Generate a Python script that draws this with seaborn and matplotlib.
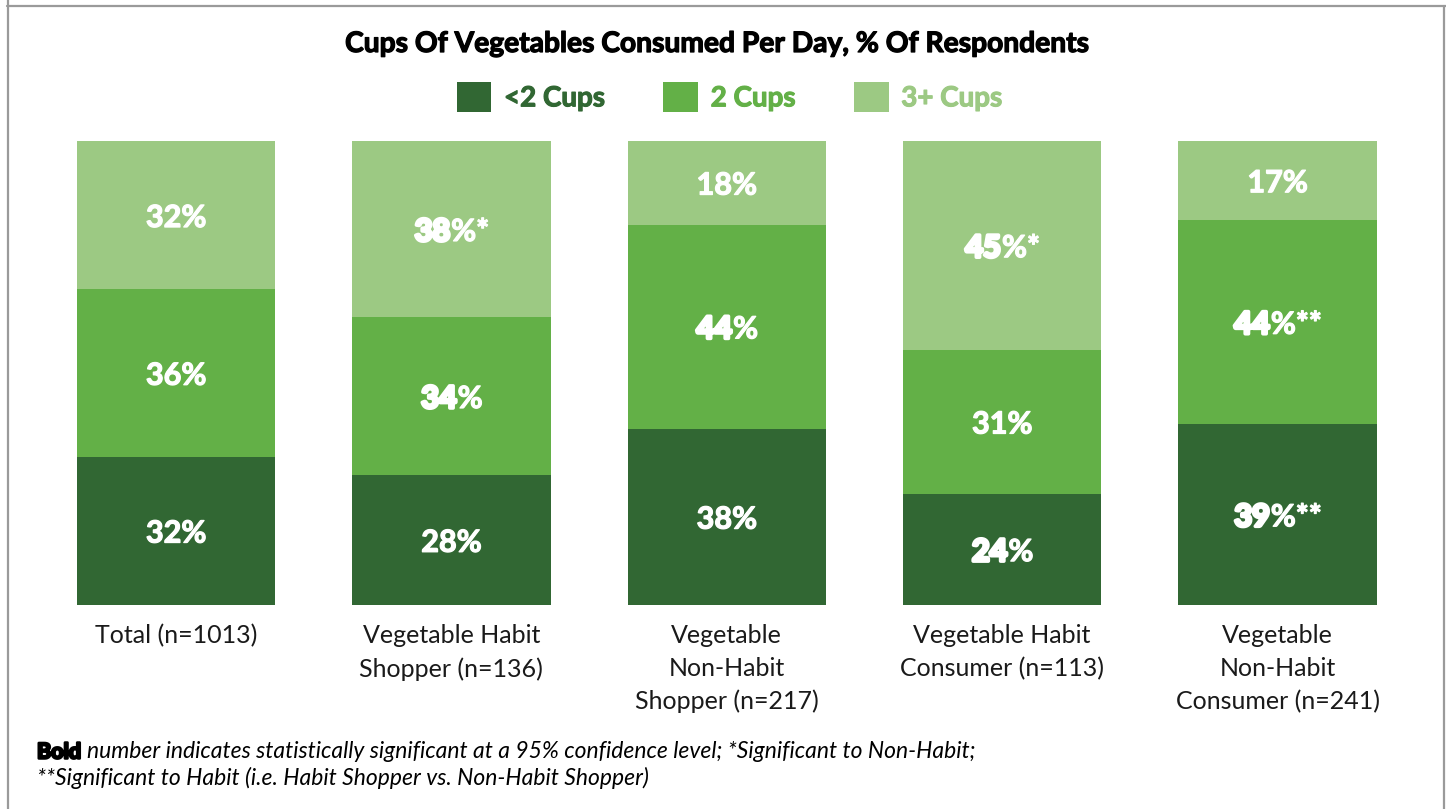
import matplotlib
matplotlib.use("Agg")
import matplotlib.pyplot as plt
import matplotlib.patheffects as pe
import matplotlib.transforms as mtransforms
from matplotlib.patches import Patch
from matplotlib.lines import Line2D
import pandas as pd
import seaborn as sns

# ---- data -------------------------------------------------------------
categories = [
    "Total (n=1013)",
    "Vegetable Habit\nShopper (n=136)",
    "Vegetable\nNon-Habit\nShopper (n=217)",
    "Vegetable Habit\nConsumer (n=113)",
    "Vegetable\nNon-Habit\nConsumer (n=241)",
]
series_names = ["<2 Cups", "2 Cups", "3+ Cups"]
under2 = [32, 28, 38, 24, 39]
two_cups = [36, 34, 44, 31, 44]
three_plus = [32, 38, 18, 45, 17]

# significance suffixes and which values are shown in heavy type
under2_marks = ["", "", "", "", "**"]
two_marks = ["", "", "", "", "**"]
three_marks = ["", "*", "", "*", ""]
under2_sig = [False, False, False, True, True]
two_sig = [False, True, True, False, True]
three_sig = [False, True, False, True, False]

title = "Cups Of Vegetables Consumed Per Day, % Of Respondents"
note_bold = "Bold"
note_line1 = "number indicates statistically significant at a 95% confidence level; *Significant to Non-Habit;"
note_line2 = "**Significant to Habit (i.e. Habit Shopper vs. Non-Habit Shopper)"

# ---- style ------------------------------------------------------------
DARK, MID, LIGHT = "#316733", "#63b047", "#9cc983"
colors = [DARK, MID, LIGHT]

sns.set_theme(style="white")
plt.rcParams["font.family"] = ["Lato", "DejaVu Sans"]

W, H = 1446, 809
fig = plt.figure(figsize=(W / 100, H / 100), dpi=100)
fig.patch.set_facecolor("white")

ax = fig.add_axes([38.3 / W, 204 / H, 1376.9 / W, 464 / H])

df = pd.DataFrame({
    "group": categories,
    "lt2": under2,
    "two": two_cups,
    "three": three_plus,
})
df["cum_mid"] = df["lt2"] + df["two"]
df["cum_top"] = df["cum_mid"] + df["three"]

# stacked bars drawn as overlapping cumulative totals
for col, c in [("cum_top", LIGHT), ("cum_mid", MID), ("lt2", DARK)]:
    sns.barplot(data=df, x="group", y=col, order=categories, color=c,
                width=0.72, saturation=1, edgecolor="none", linewidth=0,
                ax=ax)

ax.set_xlim(-0.5, len(categories) - 0.5)
ax.set_ylim(0, 100)
ax.set_xlabel("")
ax.set_ylabel("")
ax.set_yticks([])
for s in ax.spines.values():
    s.set_visible(False)
ax.tick_params(axis="x", length=0, pad=14, labelsize=18, labelcolor="#1a1a1a")
for lbl in ax.get_xticklabels():
    lbl.set_linespacing(1.5)
    lbl.set_multialignment("center")

# ---- segment labels ---------------------------------------------------
fig.canvas.draw()
renderer = fig.canvas.get_renderer()
px_data = mtransforms.blended_transform_factory(mtransforms.IdentityTransform(), ax.transData)
plain_fx = [pe.withStroke(linewidth=0.9, foreground="white")]
heavy_fx = [pe.withStroke(linewidth=2.6, foreground="white")]
LABEL_SIZE = 22
NUDGE = 0.6  # small downward shift so glyphs sit optically centred

segments = [
    (under2, under2_marks, under2_sig),
    (two_cups, two_marks, two_sig),
    (three_plus, three_marks, three_sig),
]
for i in range(len(categories)):
    base = 0
    xc = ax.transData.transform((i, 0))[0]
    for vals, marks, sig in segments:
        v = vals[i]
        y = base + v / 2 - NUDGE
        if sig[i]:
            # heavy digits followed by the regular-weight suffix
            t1 = ax.text(0, y, f"{v}", transform=px_data, ha="left", va="center",
                         color="white", fontsize=LABEL_SIZE, fontweight="bold",
                         path_effects=heavy_fx)
            t2 = ax.text(0, y, f"%{marks[i]}", transform=px_data, ha="left",
                         va="center", color="white", fontsize=LABEL_SIZE,
                         fontweight="bold", path_effects=plain_fx)
            w1 = t1.get_window_extent(renderer).width
            w2 = t2.get_window_extent(renderer).width
            x0 = xc - (w1 + w2) / 2
            t1.set_x(x0)
            t2.set_x(x0 + w1 + 1)
        else:
            ax.text(i, y, f"{v}%{marks[i]}", ha="center", va="center",
                    color="white", fontsize=LABEL_SIZE, fontweight="bold",
                    path_effects=plain_fx)
        base += v

# ---- title and legend -------------------------------------------------
fig.text(718 / W, 1 - 44 / H, title, ha="center", va="center",
         fontsize=20.3, fontweight="bold", color="black",
         path_effects=[pe.withStroke(linewidth=0.9, foreground="black")])

handles = [Patch(facecolor=c, edgecolor="none") for c in colors]
leg = fig.legend(handles, series_names, loc="center",
                 bbox_to_anchor=(729.5 / W, 1 - 97 / H), ncol=3, frameon=False,
                 prop={"weight": "bold", "size": 20}, labelcolor=colors,
                 handlelength=1.25, handleheight=1.25, handletextpad=0.45,
                 columnspacing=2.1, borderpad=0, borderaxespad=0)
for txt, c in zip(leg.get_texts(), colors):
    txt.set_path_effects([pe.withStroke(linewidth=0.8, foreground=c)])

# ---- footnote ---------------------------------------------------------
px_fig = mtransforms.blended_transform_factory(mtransforms.IdentityTransform(), fig.transFigure)
NOTE_SIZE = 16.5
y1 = 1 - 752 / H
y2 = 1 - 778 / H
tb = fig.text(37, y1, note_bold, transform=px_fig, ha="left", va="center",
              fontsize=15.5, fontweight="bold", color="black",
              path_effects=[pe.withStroke(linewidth=1.8, foreground="black")])
bbx = tb.get_window_extent(renderer)
fig.text(bbx.x1 + 6, y1, note_line1, transform=px_fig, ha="left", va="center",
         fontsize=NOTE_SIZE, style="italic", color="black")
fig.text(37, y2, note_line2, transform=px_fig, ha="left", va="center",
         fontsize=NOTE_SIZE, style="italic", color="black")

# ---- frame lines ------------------------------------------------------
frame = "#9a9a9a"
fig.add_artist(Line2D([7 / W, 1], [1 - 6 / H, 1 - 6 / H], transform=fig.transFigure,
                      color=frame, lw=1.6))
fig.add_artist(Line2D([7.5 / W, 7.5 / W], [0, 1], transform=fig.transFigure,
                      color=frame, lw=1.6))
fig.add_artist(Line2D([1444 / W, 1444 / W], [0, 1 - 6 / H], transform=fig.transFigure,
                      color=frame, lw=1.6))

fig.savefig("out.png", dpi=100, facecolor="white")
